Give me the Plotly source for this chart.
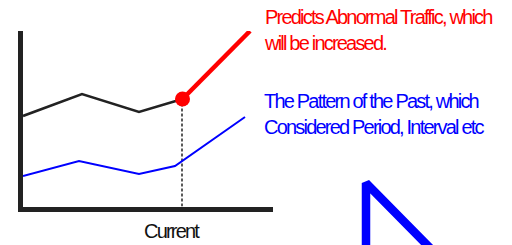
import plotly.graph_objects as go

# ---- data (x: time units, y: traffic level) ----
past_x = [0, 59, 116, 159.5]
past_y = [90.5, 112.5, 94.5, 107.5]

pred_x = [159.5, 227]
pred_y = [107.5, 175.5]

pattern_x = [0, 56, 116, 152, 222]
pattern_y = [30.5, 45.5, 32.5, 40.5, 89.5]

current_x = [159.5]
current_y = [107.5]

marker_x = [159, 159]
marker_y = [0, 107.5]

x_label = "Current"
red_lines = ["Predicts Abnormal Traffic, which", "will be increased."]
blue_lines = ["The Pattern of the Past, which", "Considered Period, Interval etc"]

# decorative arrow fragment in canvas coordinates
deco_x = [366, 366, 433]
deco_y = [262, 183, 251]

FONT = "Liberation Sans, Arial, sans-serif"
W, H = 512, 245


def tight(lines, ls="-1.8px"):
    return "<br>".join('<span style="letter-spacing:%s">%s</span>' % (ls, s) for s in lines)


fig = go.Figure()

fig.add_trace(go.Scatter(x=marker_x, y=marker_y, mode="lines",
                         line=dict(color="#000000", width=1.3, dash="3px,2px"),
                         hoverinfo="skip", showlegend=False))
fig.add_trace(go.Scatter(x=pattern_x, y=pattern_y, mode="lines",
                         line=dict(color="#0000FF", width=2),
                         showlegend=False, cliponaxis=False))
fig.add_trace(go.Scatter(x=past_x, y=past_y, mode="lines",
                         line=dict(color="#222222", width=2.6),
                         showlegend=False, cliponaxis=False))
fig.add_trace(go.Scatter(x=pred_x, y=pred_y, mode="lines",
                         line=dict(color="#FF0000", width=4.5),
                         showlegend=False, cliponaxis=False))
fig.add_trace(go.Scatter(x=current_x, y=current_y, mode="markers",
                         marker=dict(color="#FF0000", size=15),
                         showlegend=False, cliponaxis=False))

fig.add_trace(go.Scatter(x=deco_x, y=deco_y, mode="lines",
                         line=dict(color="#0000FF", width=8.5),
                         xaxis="x2", yaxis="y2", showlegend=False))

left_px, right_px, top_px, bottom_px = 23, 273, 31, 206.5

fig.update_layout(
    width=W, height=H,
    margin=dict(l=0, r=0, t=0, b=0),
    paper_bgcolor="white", plot_bgcolor="rgba(0,0,0,0)",
    xaxis=dict(domain=[left_px / W, right_px / W], range=[0, 250],
               showline=True, linecolor="#222222", linewidth=5,
               showgrid=False, zeroline=False, showticklabels=False, ticks=""),
    yaxis=dict(domain=[(H - bottom_px) / H, (H - top_px) / H], range=[0, 175.5],
               showline=True, linecolor="#222222", linewidth=5,
               showgrid=False, zeroline=False, showticklabels=False, ticks=""),
    xaxis2=dict(domain=[0, 1], range=[0, W], anchor="y2", visible=False),
    yaxis2=dict(domain=[0, 1], range=[H, 0], anchor="x2", visible=False),
    annotations=[
        dict(x=172, y=231, xref="x2", yref="y2", text=tight([x_label]), showarrow=False,
             font=dict(family=FONT, size=20, color="#111111"),
             xanchor="center", yanchor="middle"),
        dict(x=262, y=29.5, xref="x2", yref="y2", text=tight(red_lines), showarrow=False,
             font=dict(family=FONT, size=20, color="#FF0000"), align="left",
             xanchor="left", yanchor="middle"),
        dict(x=262, y=114, xref="x2", yref="y2", text=tight(blue_lines), showarrow=False,
             font=dict(family=FONT, size=20, color="#0000FF"), align="left",
             xanchor="left", yanchor="middle"),
    ],
)

fig.write_html("out.html", config={"displayModeBar": False},
               post_script="document.body.style.margin='0';")
